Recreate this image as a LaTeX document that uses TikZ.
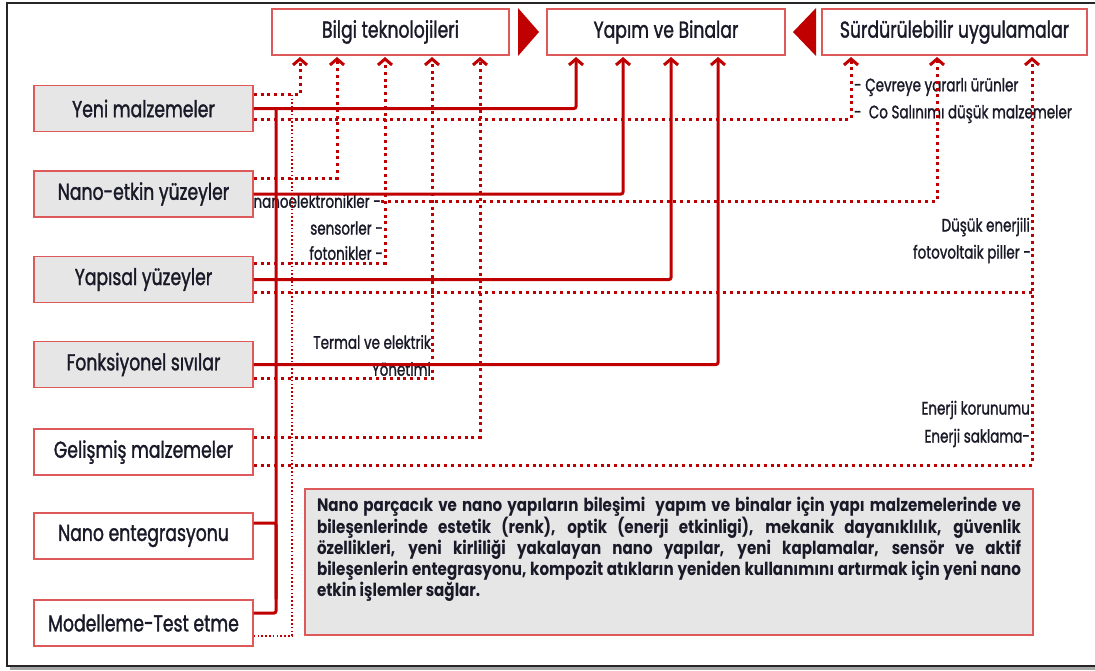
\documentclass[tikz,border=0pt]{standalone}
\usepackage{fontspec}
\setmainfont[FakeStretch=0.75,FakeBold=1.3]{Poppins}
\newfontfamily\descfont[FakeStretch=0.84]{Poppins}
\usetikzlibrary{arrows.meta,calc}
\definecolor{darkred}{RGB}{192,0,0}
\definecolor{boxred}{RGB}{222,90,90}
\definecolor{boxgray}{RGB}{230,230,230}
\definecolor{ink}{RGB}{25,25,40}
\tikzset{>={Straight Barb[length=6pt,width=14pt]},
  box/.style={draw=boxred,line width=1.4pt,fill=white,text=ink,inner sep=0pt,
    minimum width=219pt,minimum height=46pt,font=\fontsize{23}{26}\selectfont},
  graybox/.style={box,fill=boxgray},
  lbl/.style={inner sep=0pt,text=ink,font=\fontsize{18}{20}\selectfont},
  redline/.style={draw=darkred,line width=3pt,rounded corners=2pt},
  dotline/.style={draw=darkred,line width=3pt,dash pattern=on 3pt off 3.8pt},
  thindot/.style={draw=darkred,line width=1.6pt,dash pattern=on 1.6pt off 2.2pt}}

\begin{document}
\begin{tikzpicture}[x=1pt,y=-1pt]
\useasboundingbox (0,0) rectangle (1095,670);
\fill[black!35] (10,666) rectangle (1100,670);
\draw[black!85,line width=1.6pt] (7,3) rectangle (1100,666);

\node[box,minimum width=237pt] (bilgi) at (390.5,32) {Bilgi teknolojileri};
\node[box,minimum width=238pt] (yapim) at (666,32) {Yapım ve Binalar};
\node[box,minimum width=265pt] (surdur) at (954.5,32) {Sürdürülebilir uygulamalar};
\fill[darkred] (518,8) -- (539,32) -- (518,56) -- cycle;
\fill[darkred] (816,8) -- (793,32) -- (816,56) -- cycle;

\node[graybox] (yeni) at (143.5,108.5) {Yeni malzemeler};
\node[graybox] (nanoetkin) at (143.5,194) {Nano-etkin yüzeyler};
\node[graybox] (yapisal) at (143.5,279.5) {Yapısal yüzeyler};
\node[graybox] (fonks) at (143.5,364.5) {Fonksiyonel sıvılar};
\node[box] (gelismis) at (143.5,452) {Gelişmiş malzemeler};
\node[box] (entegre) at (143.5,536) {Nano entegrasyonu};
\node[box] (modelleme) at (143.5,623) {Modelleme-Test etme};

\node[draw=boxred,line width=1.4pt,fill=boxgray,text=ink,inner sep=0pt,
  minimum width=728pt,minimum height=146pt] (desc) at (669,562)
  {\parbox[c][130pt][t]{704pt}{\descfont\bfseries\fontsize{18}{20.8}\selectfont
  \makebox[704pt][s]{Nano parçacık ve nano yapıların bileşimi\ \ yapım ve binalar için yapı malzemelerinde ve}\\
  \makebox[704pt][s]{bileşenlerinde estetik (renk), optik (enerji etkinligi), mekanik dayanıklılık, güvenlik}\\
  \makebox[704pt][s]{özellikleri, yeni kirliliği yakalayan nano yapılar, yeni kaplamalar, sensör ve aktif}\\
  \makebox[704pt][s]{bileşenlerin entegrasyonu, kompozit atıkların yeniden kullanımını artırmak için yeni nano}\\
  etkin işlemler sağlar.}};

\foreach \n/\x in {b1/300,b2/337,b3/385,b4/432,b5/480,y1/576,y2/623,y3/671,y4/718,s1/851,s2/937,s3/1032}
  \coordinate (\n) at (\x,57);
\coordinate (trunk) at (276,0);
\coordinate (yu) at ($(yeni.east)+(0,-14.5)$);
\coordinate (thin) at ($(yu)+(38,0)$);
\coordinate (ys) at ($(yapisal.east)+(0,13)$);

\node[lbl,anchor=east] (nanoel) at (381,201) {nanoelektronikler -};
\node[lbl,anchor=east] (sensor) at (383,228) {sensorler -};
\node[lbl,anchor=east] (foton) at (383,253) {fotonikler -};
\node[lbl,anchor=east] (termal) at (431,342) {Termal ve elektrik};
\node[lbl,anchor=east] (yonetim) at (431,369) {Yönetimi};
\node[lbl,anchor=east] (dusuk) at (1030,227) {Düşük enerjili};
\node[lbl,anchor=east] (fotov) at (1031,254) {fotovoltaik piller -};
\node[lbl,anchor=east] (korunum) at (1030,410) {Enerji korunumu};
\node[lbl,anchor=east] (saklama) at (1030,438) {Enerji saklama-};
\node[lbl,anchor=west] (cevre) at (854,87) {- Çevreye yararlı ürünler};
\node[lbl,anchor=west] (salinim) at (854,114) {-\ \ Co Salınımı düşük malzemeler};

\draw[redline,->] (yeni.east) -| (y1);
\draw[redline,->] (nanoetkin.east) -| (y2);
\draw[redline,->] (yapisal.east) -| (y3);
\draw[redline,->] (fonks.east) -| (y4);
\draw[redline] ($(modelleme.east)+(0,-10)$) -| (trunk |- yeni.east);
\draw[redline] ($(entegre.east)+(0,-13)$) -| (trunk |- modelleme.north);

\draw[dotline,->] (yu) -| (b1);
\draw[dotline,->] ($(yeni.east)+(0,10.5)$) -| (s1);
\draw[dotline,->] ($(nanoetkin.east)+(0,-16)$) -| (b2);
\draw[dotline,->] (nanoel.east) -| (s2);
\draw[dotline,->] ($(yapisal.east)+(0,-16.5)$) -| (b3);
\draw[dotline] (ys) -- (ys -| s3);
\draw[dotline,->] ($(fonks.east)+(0,13.5)$) -| (b4);
\draw[dotline,->] ($(gelismis.east)+(0,-15)$) -| (b5);
\draw[dotline,->] ($(gelismis.east)+(0,13)$) -| (s3);
\draw[thindot] ($(modelleme.east)+(0,13)$) -| (thin);
\end{tikzpicture}
\end{document}
